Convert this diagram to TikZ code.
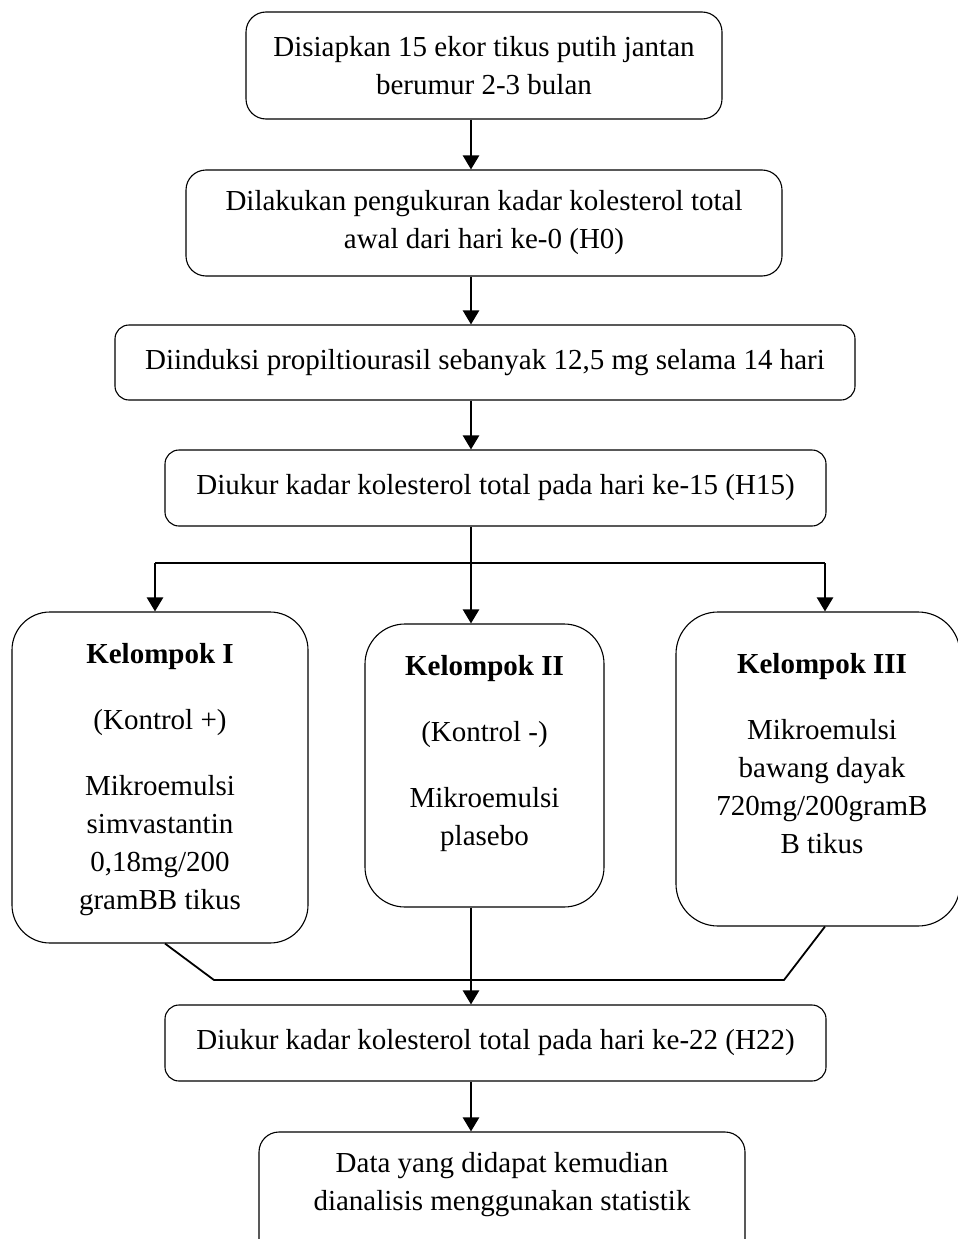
\documentclass[tikz,border=0pt]{standalone}
\usepackage{fontspec}
\setmainfont{Liberation Serif}
\usetikzlibrary{arrows.meta}
\begin{document}
\begin{tikzpicture}[x=1pt,y=-1pt,
  box/.style={draw,line width=1.1pt,rounded corners=20pt,align=center,inner sep=0pt,font=\fontsize{29}{38}\selectfont},
  grp/.style={draw,line width=1.1pt,rounded corners=38pt,inner sep=0pt},
  gtext/.style={align=center,inner sep=0pt,anchor=north,font=\fontsize{29}{38}\selectfont},
  conn/.style={line width=2.4pt},
  merge/.style={line width=1.8pt},
  arr/.style={conn,-{Triangle[width=16pt,length=14pt]}}]
\useasboundingbox (0,0) rectangle (958,1239);
\node[box,minimum width=476pt,minimum height=107pt] (b1) at (484,65.5) {Disiapkan 15 ekor tikus putih jantan\\berumur 2-3 bulan};
\node[box,minimum width=596pt,minimum height=106pt] (b2) at (484,223) {Dilakukan pengukuran kadar kolesterol total\\awal dari hari ke-0 (H0)};
\node[box,rounded corners=14pt,minimum width=740pt,minimum height=75pt] (b3) at (485,362.5) {Diinduksi propiltiourasil sebanyak 12,5 mg selama 14 hari};
\node[box,rounded corners=14pt,minimum width=661pt,minimum height=76pt] (b4) at (495.5,488) {Diukur kadar kolesterol total pada hari ke-15 (H15)};
\node[grp,minimum width=296pt,minimum height=331pt] (g1) at (160,777.5) {};
\node[grp,rounded corners=40pt,minimum width=239pt,minimum height=283pt] (g2) at (484.5,765.5) {};
\node[grp,rounded corners=42pt,minimum width=284pt,minimum height=314pt] (g3) at (818,769) {};
\node[gtext] (t1) at (160,643) {\textbf{Kelompok I}\\[28pt](Kontrol +)\\[28pt]Mikroemulsi\\simvastantin\\0,18mg/200\\gramBB tikus};
\node[gtext] (t2) at (484.5,655) {\textbf{Kelompok II}\\[28pt](Kontrol -)\\[28pt]Mikroemulsi\\plasebo};
\node[gtext] (t3) at (822,653) {\textbf{Kelompok III}\\[28pt]Mikroemulsi\\bawang dayak\\720mg/200gramB\\B tikus};
\node[box,rounded corners=14pt,minimum width=661pt,minimum height=76pt] (b5) at (495.5,1043) {Diukur kadar kolesterol total pada hari ke-22 (H22)};
\node[box,minimum width=486pt,minimum height=140pt] (b6) at (502,1202) {Data yang didapat kemudian\\dianalisis menggunakan statistik\\[4pt]};
\coordinate (c) at (471,0);
\coordinate (br) at (471,563);
\coordinate (bl) at (155,563);
\coordinate (brr) at (825,563);
\coordinate (d1) at (165,0);
\coordinate (d3) at (825,0);
\coordinate (ml) at (214,980);
\coordinate (mr) at (784,980);
\draw[arr] (b1.south -| c) -- (b2.north -| c);
\draw[arr] (b2.south -| c) -- (b3.north -| c);
\draw[arr] (b3.south -| c) -- (b4.north -| c);
\draw[conn] (b4.south -| c) -- (br);
\draw[conn] (bl) -- (brr);
\draw[arr] (bl) -- (g1.north -| bl);
\draw[arr] (br) -- (g2.north -| c);
\draw[arr] (brr) -- (g3.north -| brr);
\draw[merge,line join=round] (g1.south -| d1) -- (ml) -- (mr) -- (g3.south -| d3);
\draw[arr] (g2.south -| c) -- (b5.north -| c);
\draw[arr] (b5.south -| c) -- (b6.north -| c);
\end{tikzpicture}
\end{document}
